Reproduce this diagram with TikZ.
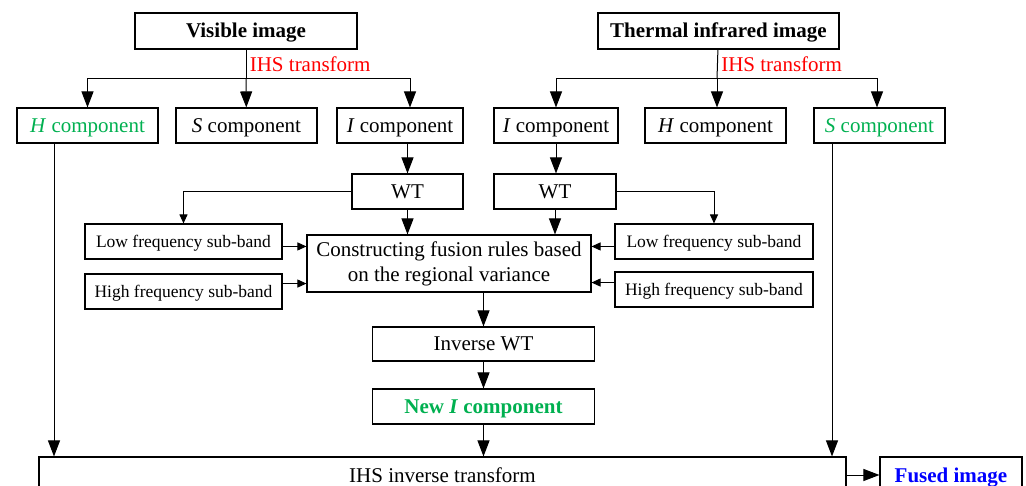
\documentclass[tikz,border=0pt]{standalone}
\usepackage{fontspec}
\setmainfont{Liberation Serif}
\usetikzlibrary{arrows.meta,positioning}
\definecolor{compgreen}{RGB}{0,176,80}

\begin{document}
\begin{tikzpicture}[
    x=1pt, y=-1pt,
    line width=1pt,
    >={Triangle[length=16pt,width=12pt]},        % arrow tip style
    box/.style={draw, line width=1.1pt, inner sep=0pt, minimum height=35pt,
                text height=18pt, text depth=4pt, font=\fontsize{21}{26}\selectfont},
    titlebox/.style={box, font=\fontsize{21}{26}\selectfont\bfseries},
    subband/.style={box, minimum width=197pt, text height=15pt, text depth=3.5pt,
                    font=\fontsize{17.5}{21}\selectfont},
    thin arrow/.style={-{Triangle[length=9pt,width=8pt]}}]
    \useasboundingbox (0,0) rectangle (1026,486);

    % Source images
    \node[titlebox, minimum width=222pt, minimum height=36pt] (vis) at (246,31) {Visible image};
    \node[titlebox, minimum width=241pt, minimum height=36pt] (thr) at (718.5,31) {Thermal infrared image};
    \coordinate (visfork) at (246,79);
    \coordinate (thrfork) at (717,79);

    % IHS components
    \node[box, minimum width=141pt, text=compgreen] (hl) at (87.5,125.5) {\textit{H} component};
    \node[box, minimum width=141pt] (sl) [right of=hl, node distance=159pt] {\textit{S} component};
    \node[box, minimum width=126pt] (il) at (400,125.5) {\textit{I} component};
    \node[box, minimum width=124pt] (ir) at (556,125.5) {\textit{I} component};
    \node[box, minimum width=141pt] (hr) at (715.5,125.5) {\textit{H} component};
    \node[box, minimum width=131pt, text=compgreen] (sr) at (879.5,125.5) {\textit{S} component};

    % Wavelet part
    \node[box, minimum width=111pt] (wtl) at (407.5,191.5) {WT};
    \node[box, minimum width=122pt] (wtr) at (555,191.5) {WT};
    \node[subband] (lowl) at (183.5,241.5) {Low frequency sub-band};
    \node[subband] (highl) [below of=lowl, node distance=50pt] {High frequency sub-band};
    \node[subband, minimum width=198pt] (lowr) at (714,241.5) {Low frequency sub-band};
    \node[subband, minimum width=198pt] (highr) [below of=lowr, node distance=48pt] {High frequency sub-band};
    \node[box, text height=, text depth=, minimum width=284pt, minimum height=57pt,
          font=\fontsize{21}{25}\selectfont] (fus) at (449,263.5)
        {\raisebox{-1pt}[\height][\depth]{\begin{tabular}{@{}c@{}}Constructing fusion rules based\\on the regional variance\end{tabular}}};
    \node[box, minimum width=222pt, minimum height=34pt] (inv) at (483.5,344) {Inverse WT};
    \node[box, minimum width=222pt, font=\fontsize{21}{26}\selectfont\bfseries, text=compgreen]
        (newi) [below of=inv, node distance=62.5pt] {New \textit{I} component};

    % Output
    \node[box, minimum width=807pt, minimum height=36pt] (ihsinv) at (442.5,475) {IHS inverse transform};
    \node[box, minimum width=142pt, minimum height=36pt, font=\fontsize{21}{26}\selectfont\bfseries, text=blue]
        (fused) at (951,475) {Fused image};

    % IHS transform branches
    \draw (vis) -- node[right, text=red, font=\fontsize{21}{26}\selectfont] {IHS transform} (visfork);
    \draw[->] (visfork) -| (hl);
    \draw[->] (visfork) -- (sl);
    \draw[->] (visfork) -| ([xshift=10pt]il.north);
    \draw (thr) -- node[right, text=red, font=\fontsize{21}{26}\selectfont] {IHS transform} (thrfork);
    \draw[->] (thrfork) -| (ir);
    \draw[->] (thrfork) -- (thrfork |- hr.north);
    \draw[->] (thrfork) -| ([xshift=-2.5pt]sr.north);

    % Decomposition and fusion
    \draw[->] (il.south -| wtl) -- (wtl);
    \draw[->] (ir) -- (ir |- wtr.north);
    \draw[thin arrow] (wtl.west) -| (lowl);
    \draw[thin arrow] (wtr.east) -| (lowr);
    \draw[->] (wtl) -- (wtl |- fus.north);
    \draw[->] (wtr) -- (wtr |- fus.north);
    \coordinate (fl1) at ([yshift=-12pt]fus.north west);
    \coordinate (fl2) at ([yshift=9pt]fus.south west);
    \coordinate (fr1) at ([yshift=-12pt]fus.north east);
    \coordinate (fr2) at ([yshift=10pt]fus.south east);
    \draw[thin arrow] (lowl.east |- fl1) -- (fl1);
    \draw[thin arrow] (highl.east |- fl2) -- (fl2);
    \draw[thin arrow] (lowr.west |- fr1) -- (fr1);
    \draw[thin arrow] (highr.west |- fr2) -- (fr2);
    \draw[->] (inv.north |- fus.south) -- (inv);
    \draw[->] (inv) -- (newi);

    % Reconstruction
    \coordinate (hdown) at ([xshift=-33.5pt]hl.south);
    \coordinate (sdown) at ([xshift=-47.5pt]sr.south);
    \draw[->] (hdown) -- (hdown |- ihsinv.north);
    \draw[->] (sdown) -- (sdown |- ihsinv.north);
    \draw[->] (newi) -- (newi |- ihsinv.north);
    \draw[->] (ihsinv) -- (fused);
\end{tikzpicture}
\end{document}
